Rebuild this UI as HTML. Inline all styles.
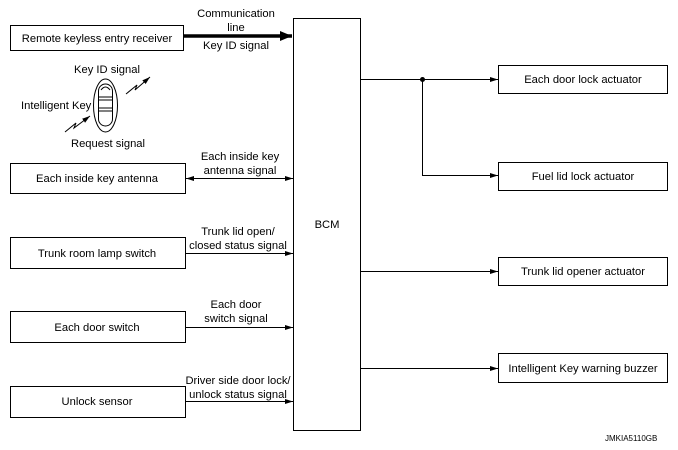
<!DOCTYPE html>
<html><head><meta charset="utf-8"><style>
html,body{margin:0;padding:0;background:#fff;}
svg{display:block;}
text{font-family:"Liberation Sans",Arial,sans-serif;font-size:11.2px;fill:#000;}
</style></head><body>
<svg width="678" height="450" viewBox="0 0 678 450" xmlns="http://www.w3.org/2000/svg">
<defs>
<marker id="a" markerWidth="8" markerHeight="6" refX="8" refY="3" orient="auto" markerUnits="userSpaceOnUse"><path d="M0,0.5 L8,3 L0,5.5 z" fill="#000"/></marker>
<marker id="as" markerWidth="8" markerHeight="6" refX="0" refY="3" orient="auto" markerUnits="userSpaceOnUse"><path d="M8,0.5 L0,3 L8,5.5 z" fill="#000"/></marker>
<marker id="ab" markerWidth="12" markerHeight="10" refX="12" refY="5" orient="auto" markerUnits="userSpaceOnUse"><path d="M0,0 L12,5 L0,10 z" fill="#000"/></marker>
</defs>
<g fill="none" stroke="#000" stroke-width="1">
<rect x="293.5" y="18.5" width="67" height="412"/>
<rect x="10.5" y="25.5" width="173" height="25"/>
<rect x="10.5" y="163.5" width="175" height="30"/>
<rect x="10.5" y="237.5" width="175" height="31"/>
<rect x="10.5" y="311.5" width="175" height="31"/>
<rect x="10.5" y="386.5" width="175" height="31"/>
<rect x="498.5" y="65.5" width="169" height="28"/>
<rect x="498.5" y="162.5" width="169" height="28"/>
<rect x="498.5" y="257.5" width="169" height="28"/>
<rect x="498.5" y="353.5" width="169" height="29"/>
</g>
<g stroke="#000" stroke-width="1" fill="none">
<line x1="183" y1="36" x2="292" y2="36" stroke-width="3.5" marker-end="url(#ab)"/>
<line x1="186" y1="178.5" x2="293" y2="178.5" marker-start="url(#as)" marker-end="url(#a)"/>
<line x1="186" y1="253.5" x2="293" y2="253.5" marker-end="url(#a)"/>
<line x1="186" y1="327.5" x2="293" y2="327.5" marker-end="url(#a)"/>
<line x1="186" y1="401.5" x2="293" y2="401.5" marker-end="url(#a)"/>
<line x1="361" y1="79.5" x2="498" y2="79.5" marker-end="url(#a)"/>
<polyline points="422.5,79.5 422.5,175.5 498,175.5" marker-end="url(#a)"/>
<line x1="361" y1="271.5" x2="498" y2="271.5" marker-end="url(#a)"/>
<line x1="361" y1="368.5" x2="498" y2="368.5" marker-end="url(#a)"/>
<ellipse cx="105.5" cy="105.5" rx="12" ry="26.5"/>
<rect x="98.5" y="84" width="14" height="42" rx="7"/>
<line x1="99" y1="97" x2="112" y2="97"/>
<line x1="99" y1="100" x2="112" y2="100"/>
<line x1="99" y1="108" x2="112" y2="108"/>
<line x1="99" y1="111" x2="112" y2="111"/>
<path d="M101,90 Q105.5,84 110,90"/>
<polyline points="126,94 137,85 135,90 150,77" marker-end="url(#a)"/>
<polyline points="65,132 76,123 74,128 90,116" marker-end="url(#a)"/>
</g>
<circle cx="422.5" cy="79.5" r="2.5" fill="#000"/>
<g text-anchor="middle">
<text x="97" y="42">Remote keyless entry receiver</text>
<text x="97" y="182">Each inside key antenna</text>
<text x="97" y="257">Trunk room lamp switch</text>
<text x="97" y="331">Each door switch</text>
<text x="97" y="405">Unlock sensor</text>
<text x="236" y="17">Communication</text>
<text x="236" y="31">line</text>
<text x="236" y="49">Key ID signal</text>
<text x="240" y="160">Each inside key</text>
<text x="240" y="174">antenna signal</text>
<text x="238" y="235">Trunk lid open/</text>
<text x="238" y="249">closed status signal</text>
<text x="236" y="308">Each door</text>
<text x="236" y="322">switch signal</text>
<text x="238" y="384">Driver side door lock/</text>
<text x="238" y="398">unlock status signal</text>
<text x="327" y="228">BCM</text>
<text x="583" y="83">Each door lock actuator</text>
<text x="583" y="180">Fuel lid lock actuator</text>
<text x="583" y="275">Trunk lid opener actuator</text>
<text x="583" y="372">Intelligent Key warning buzzer</text>
<text x="107" y="73">Key ID signal</text>
<text x="108" y="147">Request signal</text>
</g>
<text x="21" y="109">Intelligent Key</text>
<text x="605" y="441" style="font-size:8px">JMKIA5110GB</text>
</svg>
</body></html>
